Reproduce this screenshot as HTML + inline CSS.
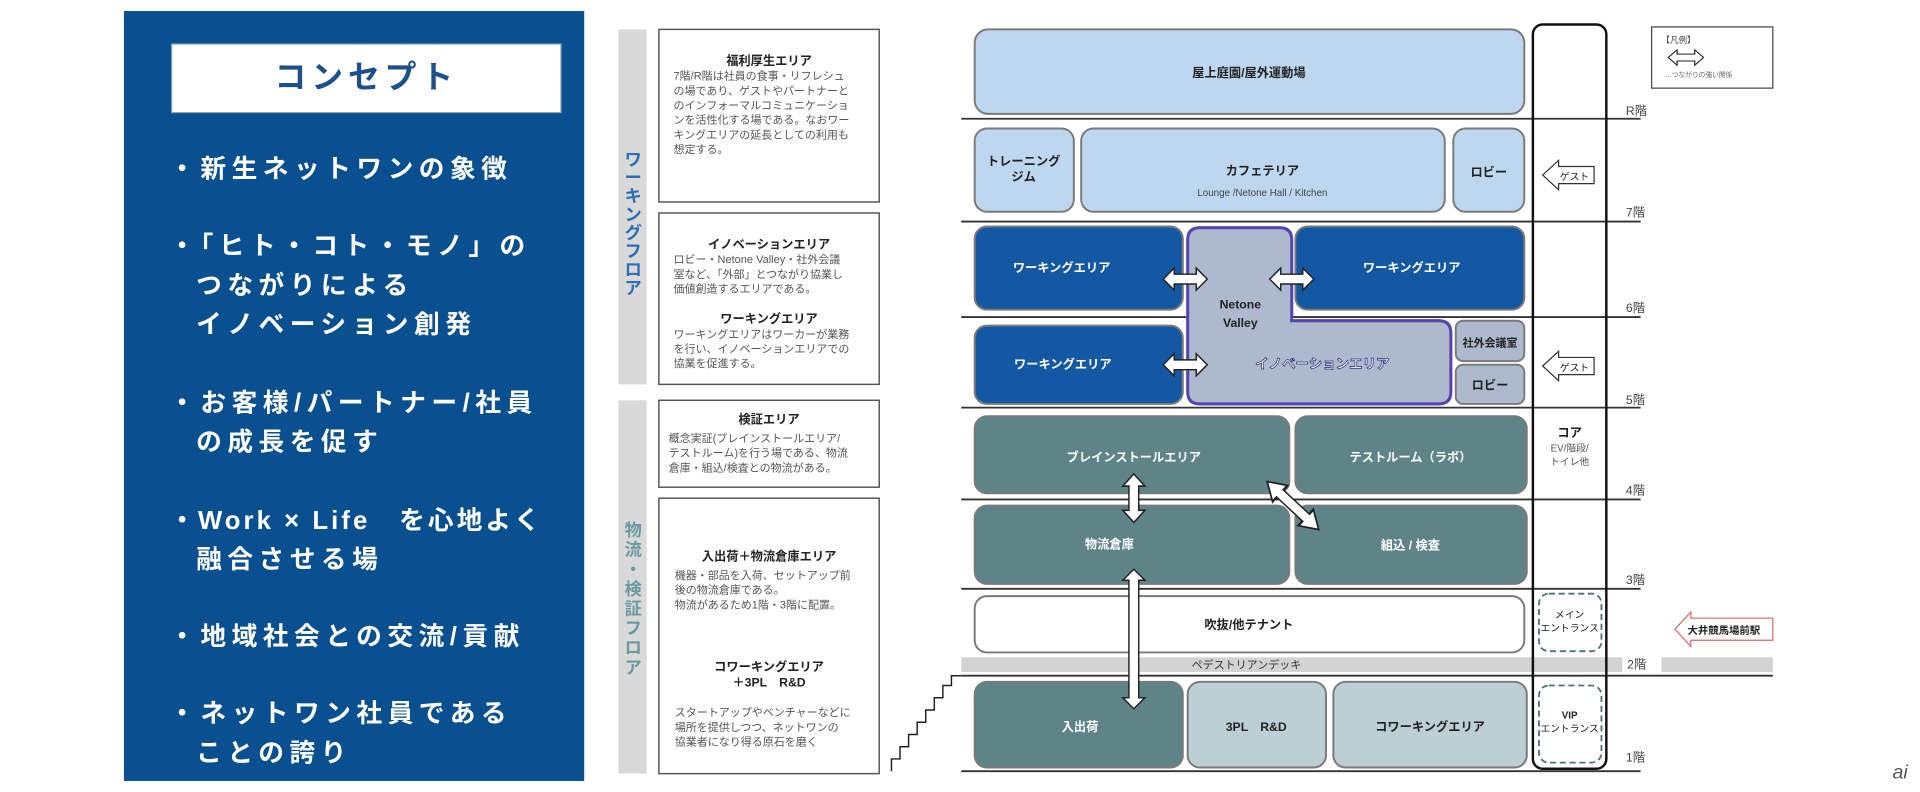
<!DOCTYPE html>
<html><head><meta charset="utf-8"><style>
html,body{margin:0;padding:0;background:#fff;width:1920px;height:792px;overflow:hidden}
svg{display:block}
text{font-family:"Liberation Sans","Noto Sans CJK JP",sans-serif}
</style></head><body>
<svg width="1920" height="792" viewBox="0 0 1568 647" xmlns="http://www.w3.org/2000/svg">
<defs>
<g id="da"><polygon points="-18,0 -9,-9 -9,-4 9,-4 9,-9 18,0 9,9 9,4 -9,4 -9,9" fill="#fff" stroke="#222" stroke-width="1.2"/></g>
</defs>
<rect x="101" y="9" width="376" height="629" fill="#0a4f8f"/>
<rect x="140" y="36" width="318" height="56" fill="#fff" stroke="#8aa" stroke-width="1"/>
<text x="299" y="72" text-anchor="middle" font-size="26" font-weight="bold" fill="#1d4f8c" letter-spacing="4">コンセプト</text>
<g fill="#fff" font-size="21" font-weight="bold" letter-spacing="4.5">
<text x="138" y="145">・新生ネットワンの象徴</text>
<text x="138" y="208">・「ヒト・コト・モノ」の</text>
<text x="160" y="240">つながりによる</text>
<text x="160" y="272">イノベーション創発</text>
<text x="138" y="336">・お客様/パートナー/社員</text>
<text x="160" y="368">の成長を促す</text>
<text x="138" y="432" letter-spacing="2.5">・Work × Life　を心地よく</text>
<text x="160" y="464">融合させる場</text>
<text x="138" y="527">・地域社会との交流/貢献</text>
<text x="138" y="590">・ネットワン社員である</text>
<text x="160" y="622">ことの誇り</text>
</g>
<rect x="505" y="24" width="23" height="290" fill="#d9d9d9"/>
<rect x="505" y="327" width="23" height="305" fill="#d9d9d9"/>
<g font-size="14" font-weight="bold" fill="#2e6db3" text-anchor="middle">
<text x="517" y="135">ワ</text><text x="517" y="150">ー</text><text x="517" y="165">キ</text><text x="517" y="180">ン</text><text x="517" y="195">グ</text><text x="517" y="210">フ</text><text x="517" y="225">ロ</text><text x="517" y="240">ア</text>
</g>
<g font-size="14" font-weight="bold" fill="#6a9aa0" text-anchor="middle">
<text x="517" y="438">物</text><text x="517" y="454">流</text><text x="517" y="470">・</text><text x="517" y="486">検</text><text x="517" y="502">証</text><text x="517" y="518">フ</text><text x="517" y="534">ロ</text><text x="517" y="550">ア</text>
</g>
<g fill="#fff" stroke="#555" stroke-width="1.2">
<rect x="538" y="24" width="180" height="141"/>
<rect x="538" y="174" width="180" height="140"/>
<rect x="538" y="327" width="180" height="71"/>
<rect x="538" y="407" width="180" height="225"/>
</g>
<g font-size="9" fill="#555">
<text x="628" y="53" text-anchor="middle" font-weight="bold" font-size="10" fill="#222">福利厚生エリア</text>
<text x="550" y="65">7階/R階は社員の食事・リフレシュ</text>
<text x="550" y="77">の場であり、ゲストやパートナーと</text>
<text x="550" y="89">のインフォーマルコミュニケーショ</text>
<text x="550" y="101">ンを活性化する場である。なおワー</text>
<text x="550" y="113">キングエリアの延長としての利用も</text>
<text x="550" y="125">想定する。</text>
<text x="628" y="203" text-anchor="middle" font-weight="bold" font-size="10" fill="#222">イノベーションエリア</text>
<text x="550" y="215">ロビー・Netone Valley・社外会議</text>
<text x="550" y="227">室など、「外部」とつながり協業し</text>
<text x="550" y="239">価値創造するエリアである。</text>
<text x="628" y="264" text-anchor="middle" font-weight="bold" font-size="10" fill="#222">ワーキングエリア</text>
<text x="550" y="276">ワーキングエリアはワーカーが業務</text>
<text x="550" y="288">を行い、イノベーションエリアでの</text>
<text x="550" y="300">協業を促進する。</text>
<text x="628" y="346" text-anchor="middle" font-weight="bold" font-size="10" fill="#222">検証エリア</text>
<text x="546" y="361">概念実証(ブレインストールエリア/</text>
<text x="546" y="373">テストルーム)を行う場である、物流</text>
<text x="546" y="385">倉庫・組込/検査との物流がある。</text>
<text x="628" y="458" text-anchor="middle" font-weight="bold" font-size="10" fill="#222">入出荷＋物流倉庫エリア</text>
<text x="551" y="473">機器・部品を入荷、セットアップ前</text>
<text x="551" y="485">後の物流倉庫である。</text>
<text x="551" y="497">物流があるため1階・3階に配置。</text>
<text x="628" y="548" text-anchor="middle" font-weight="bold" font-size="10" fill="#222">コワーキングエリア</text>
<text x="628" y="561" text-anchor="middle" font-weight="bold" font-size="10" fill="#222">＋3PL　R&amp;D</text>
<text x="551" y="585">スタートアップやベンチャーなどに</text>
<text x="551" y="597">場所を提供しつつ、ネットワンの</text>
<text x="551" y="609">協業者になり得る原石を磨く</text>
</g>
<rect x="785" y="537" width="540" height="12" fill="#d3d3d3"/>
<rect x="1357" y="537" width="91" height="12" fill="#d3d3d3"/>
<text x="1018" y="546" text-anchor="middle" font-size="9" fill="#333">ペデストリアンデッキ</text>
<g stroke="#333" stroke-width="1.5">
<line x1="785" y1="97" x2="1340" y2="97"/>
<line x1="785" y1="181" x2="1340" y2="181"/>
<line x1="785" y1="259" x2="1340" y2="259"/>
<line x1="785" y1="333" x2="1340" y2="333"/>
<line x1="785" y1="408" x2="1340" y2="408"/>
<line x1="785" y1="481" x2="1340" y2="481"/>
<line x1="785" y1="552" x2="1448" y2="552"/>
<line x1="785" y1="630" x2="1340" y2="630"/>
</g>
<polyline points="728,630 728,620 735,620 735,610 742,610 742,600 749,600 749,590 756,590 756,580 763,580 763,570 770,570 770,560 777,560 777,552 785,552" fill="none" stroke="#222" stroke-width="1.2"/>
<g font-size="10" fill="#444">
<text x="1328" y="94">R階</text><text x="1328" y="177">7階</text><text x="1328" y="255">6階</text>
<text x="1328" y="330">5階</text><text x="1328" y="404">4階</text><text x="1328" y="477">3階</text>
<text x="1329" y="546">2階</text><text x="1328" y="622">1階</text>
</g>
<g stroke="#7a7a7a" stroke-width="1.6">
<rect x="796" y="24" width="449" height="69" rx="11" fill="#bdd7ee"/>
<rect x="796" y="105" width="81" height="68" rx="10" fill="#bdd7ee"/>
<rect x="883" y="105" width="297" height="68" rx="10" fill="#bdd7ee"/>
<rect x="1187" y="105" width="58" height="68" rx="10" fill="#bdd7ee"/>
<rect x="796" y="185" width="170" height="68" rx="10" fill="#1458a3"/>
<rect x="1058" y="185" width="187" height="68" rx="10" fill="#1458a3"/>
<rect x="796" y="266" width="170" height="64" rx="10" fill="#1458a3"/>
<rect x="1189" y="262" width="56" height="33" rx="6" fill="#adb9cc"/>
<rect x="1189" y="298" width="56" height="32" rx="6" fill="#adb9cc"/>
<rect x="796" y="340" width="257" height="63" rx="10" fill="#5e8488"/>
<rect x="1058" y="340" width="189" height="63" rx="10" fill="#5e8488"/>
<rect x="796" y="413" width="257" height="64" rx="10" fill="#5e8488"/>
<rect x="1058" y="413" width="189" height="64" rx="10" fill="#5e8488"/>
<rect x="796" y="487" width="449" height="46" rx="10" fill="#fff"/>
<rect x="796" y="557" width="170" height="70" rx="10" fill="#5e8488"/>
<rect x="970" y="557" width="113" height="70" rx="10" fill="#bccfd4"/>
<rect x="1089" y="557" width="158" height="70" rx="10" fill="#bccfd4"/>
</g>
<path d="M980,186 L1045,186 Q1055,186 1055,196 L1055,262 L1175,262 Q1185,262 1185,272 L1185,320 Q1185,330 1175,330 L980,330 Q970,330 970,320 L970,196 Q970,186 980,186 Z" fill="#adb9cc" stroke="#5346b0" stroke-width="2.5"/>
<rect x="1252" y="20" width="60" height="608" rx="8" fill="none" stroke="#111" stroke-width="2"/>
<g fill="none" stroke="#4d7378" stroke-width="1.5" stroke-dasharray="5,3">
<rect x="1257" y="485" width="51" height="47" rx="8"/>
<rect x="1257" y="560" width="51" height="63" rx="8"/>
</g>
<g fill="#fff" stroke="#333" stroke-width="1">
<polygon points="1260,143 1273,131 1273,136 1302,136 1302,150 1273,150 1273,155"/>
<polygon points="1260,299 1273,287 1273,292 1302,292 1302,306 1273,306 1273,311"/>
</g>
<polygon points="1368,514 1381,500 1381,505 1448,505 1448,523 1381,523 1381,528" fill="#fff" stroke="#d96a6a" stroke-width="1"/>
<rect x="1349" y="22" width="99" height="50" fill="#fff" stroke="#444" stroke-width="1"/>
<text x="1357" y="35" font-size="7" fill="#444">【凡例】</text>
<use href="#da" transform="translate(1377,47) scale(0.8,0.7)"/>
<text x="1360" y="63" font-size="5.5" fill="#666">…つながりの強い関係</text>
<use href="#da" transform="translate(968,228)"/>
<use href="#da" transform="translate(1055,228)"/>
<use href="#da" transform="translate(968,298)"/>
<use href="#da" transform="translate(926,407) rotate(90) scale(1.1,1)"/>
<use href="#da" transform="translate(1056,413) rotate(43) scale(1.6,1)"/>
<polygon points="0,-57 -9,-48 -4,-48 -4,48 -9,48 0,57 9,48 4,48 4,-48 9,-48" transform="translate(926,522)" fill="#fff" stroke="#222" stroke-width="1.2"/>
<g font-size="10" font-weight="bold" text-anchor="middle" fill="#222">
<text x="1020" y="63">屋上庭園/屋外運動場</text>
<text x="836" y="135">トレーニング</text><text x="836" y="148">ジム</text>
<text x="1031" y="143">カフェテリア</text>
<text x="1216" y="144">ロビー</text>
<text x="1013" y="252" font-size="10">Netone</text><text x="1013" y="267">Valley</text>
<text x="1217" y="283" font-size="9">社外会議室</text>
<text x="1217" y="318">ロビー</text>
<text x="1020" y="514">吹抜/他テナント</text>
<text x="1026" y="597">3PL　R&amp;D</text>
<text x="1168" y="597">コワーキングエリア</text>
<text x="1282" y="357">コア</text>
<text x="1408" y="518" font-size="8.5">大井競馬場前駅</text>
<text x="1282" y="505" font-size="8" font-weight="normal">メイン</text>
<text x="1282" y="516" font-size="8" font-weight="normal">エントランス</text>
<text x="1282" y="587" font-size="8">VIP</text>
<text x="1282" y="598" font-size="8" font-weight="normal">エントランス</text>
<text x="1286" y="147" font-size="8" font-weight="normal">ゲスト</text>
<text x="1286" y="303" font-size="8" font-weight="normal">ゲスト</text>
</g>
<text x="1031" y="160" font-size="8" text-anchor="middle" fill="#444">Lounge /Netone Hall / Kitchen</text>
<text x="1282" y="369" font-size="8" text-anchor="middle" fill="#555">EV/階段/</text>
<text x="1282" y="380" font-size="8" text-anchor="middle" fill="#555">トイレ他</text>
<g font-size="10" font-weight="bold" text-anchor="middle" fill="#fff">
<text x="867" y="222">ワーキングエリア</text>
<text x="1153" y="222">ワーキングエリア</text>
<text x="868" y="301">ワーキングエリア</text>
<text x="1080" y="301" font-size="11" stroke="#2a2a80" stroke-width="0.6">イノベーションエリア</text>
<text x="926" y="377">ブレインストールエリア</text>
<text x="1152" y="377">テストルーム（ラボ）</text>
<text x="906" y="448">物流倉庫</text>
<text x="1152" y="449">組込 / 検査</text>
<text x="882" y="597">入出荷</text>
</g>
<text x="1552" y="636" font-size="16" font-style="italic" font-family="Liberation Serif,serif" fill="#555" text-anchor="middle">ai</text>
</svg>
</body></html>
